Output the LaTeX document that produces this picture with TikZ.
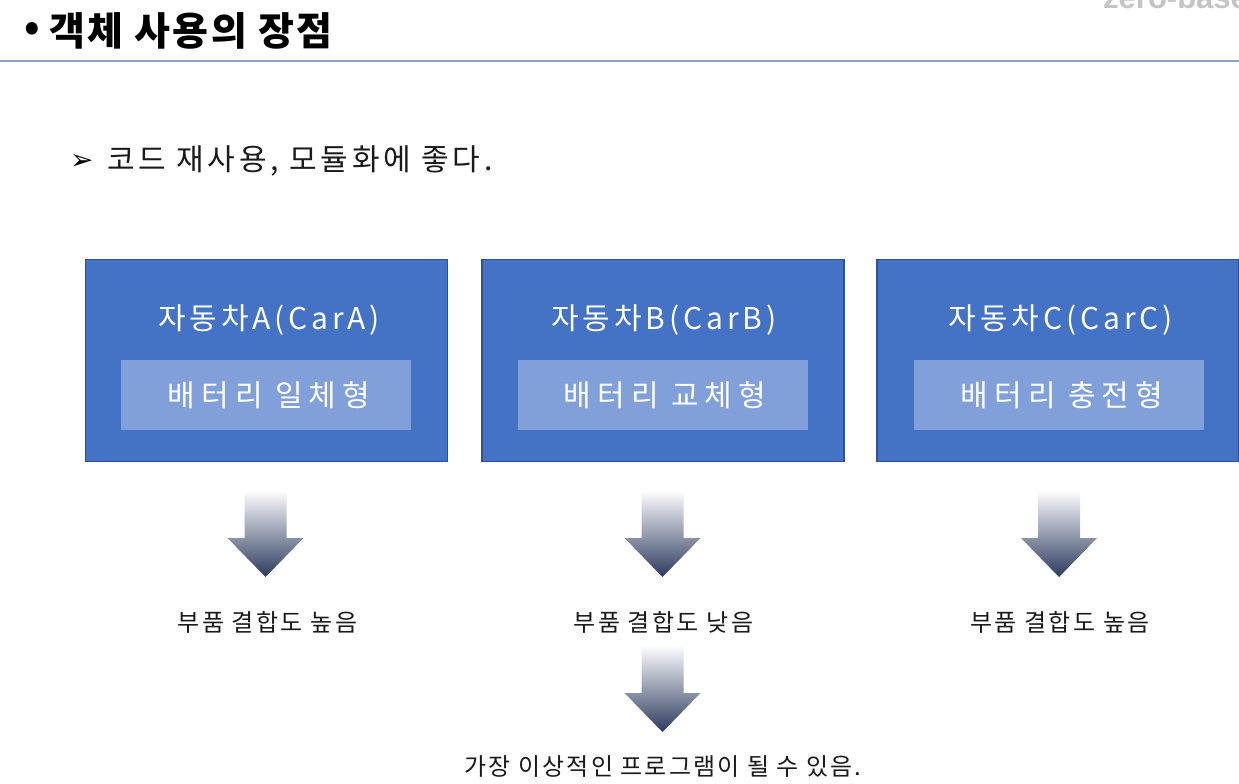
\documentclass[tikz,border=0pt]{standalone}
\usepackage{fontspec}
\setmainfont{Noto Sans CJK KR}
\newfontfamily\dejavu{DejaVu Sans}
\newfontfamily\logofont{Liberation Sans}
\definecolor{boxfill}{HTML}{4472C4}
\definecolor{boxline}{HTML}{2F528F}
\definecolor{innerfill}{HTML}{819FD9}
\definecolor{rulecol}{HTML}{8EA2BF}
\definecolor{arrowdark}{HTML}{2C3A5E}
\definecolor{arrowmid}{HTML}{A3AEC4}
\definecolor{logogray}{HTML}{C4C4C4}
\definecolor{textcol}{HTML}{1A1A1A}
\tikzset{
  carbox/.style={rectangle, fill=boxfill, draw=boxline, line width=1.5pt, minimum width=362pt, minimum height=202pt, inner sep=0pt},
  innerbox/.style={rectangle, fill=innerfill, minimum width=290pt, minimum height=70pt, inner sep=0pt, text=white, font=\fontsize{30}{35}\selectfont\addfontfeature{LetterSpace=20}},
  cartitle/.style={text=white, inner sep=0pt, font=\fontsize{30}{35}\selectfont\addfontfeature{LetterSpace=13}},
  lbl/.style={text=textcol, inner sep=0pt, font=\fontsize{24}{28}\selectfont\addfontfeature{LetterSpace=10}},
  finallbl/.style={text=textcol, inner sep=0pt, font=\fontsize{24}{28}\selectfont\addfontfeature{LetterSpace=9}},
  downarrow/.pic={
    \shade[top color=white, middle color=arrowmid, bottom color=arrowdark]
      (-21,0) -- (21,0) -- (21,48) -- (38,48) -- (0,87) -- (-38,48) -- (-21,48) -- cycle;
  }
}
\begin{document}
\begin{tikzpicture}[x=1pt,y=-1pt]
\useasboundingbox (0,0) rectangle (1239,784);
\fill[white] (0,0) rectangle (1239,784);
% logo (clipped at the top edge, as in the reference)
\node[anchor=base west, inner sep=0pt, text=logogray, font=\logofont\bfseries\fontsize{31}{36}\selectfont] (logo) at (1103,9) {zero-base};
% title
\node[anchor=west, inner sep=0pt, text=black, font=\bfseries\fontsize{39}{44}\selectfont] (bullet) at (24,31) {•};
\node[anchor=west, inner sep=0pt, text=black, font=\bfseries\fontsize{39}{44}\selectfont\addfontfeature{LetterSpace=6}] (title) at (49,31) {객체 사용의 장점};
\draw[rulecol, line width=2pt] (0,61) -- (1239,61);
% subtitle
\node[anchor=west, inner sep=0pt, font=\dejavu\fontsize{28}{30}\selectfont] (bul) at (70,162) {➢};
\node[anchor=west, inner sep=0pt, text=textcol, font=\fontsize{30}{34}\selectfont\addfontfeature{LetterSpace=12.5}] (sub) at (107,161) {코드 재사용, 모듈화에 좋다.};
% boxes
\node[carbox] (boxA) at (266.5,360.5) {};
\node[carbox] (boxB) at (663,360.5) {};
\node[carbox] (boxC) at (1058,360.5) {};
\node[cartitle] (tA) at (269,320) {자동차A(CarA)};
\node[cartitle] (tB) at (664,320) {자동차B(CarB)};
\node[cartitle] (tC) at (1061,320) {자동차C(CarC)};
\node[innerbox] (iA) at (266,395) {};
\node[innerbox] (iB) at (662.5,395) {};
\node[innerbox] (iC) at (1059,395) {};
\node[text=white, inner sep=0pt, font=\fontsize{30}{35}\selectfont\addfontfeature{LetterSpace=20}] (xA) at (269,395) {배터리 일체형};
\node[text=white, inner sep=0pt, font=\fontsize{30}{35}\selectfont\addfontfeature{LetterSpace=20}] (xB) at (665,395) {배터리 교체형};
\node[text=white, inner sep=0pt, font=\fontsize{30}{35}\selectfont\addfontfeature{LetterSpace=20}] (xC) at (1062,395) {배터리 충전형};
% arrows
\pic at (265.5,490) {downarrow};
\pic at (662.5,490) {downarrow};
\pic at (1059,490) {downarrow};
\pic at (662.5,645) {downarrow};
% labels
\node[lbl] (lA) at (267.5,622) {부품 결합도 높음};
\node[lbl] (lB) at (663.5,622) {부품 결합도 낮음};
\node[lbl] (lC) at (1060,622) {부품 결합도 높음};
\node[finallbl] (final) at (663,767) {가장 이상적인 프로그램이 될 수 있음.};
\end{tikzpicture}
\end{document}
